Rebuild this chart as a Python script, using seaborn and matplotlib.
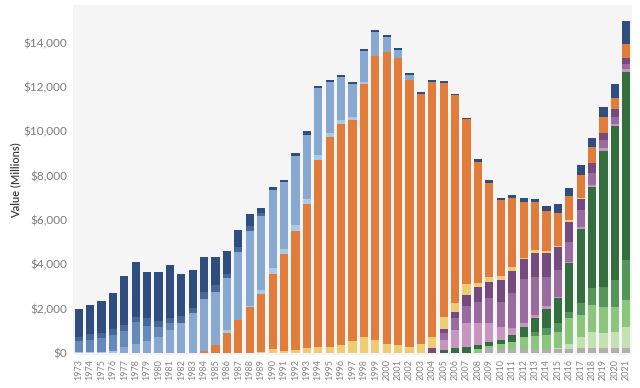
import matplotlib
matplotlib.use('Agg')
import matplotlib.pyplot as plt
import seaborn as sns
import numpy as np
import pandas as pd
from matplotlib.ticker import FuncFormatter

# Years on the x axis
years = [str(y) for y in range(1973, 2022)]

# Segment values ($ millions), 1973..2021, one list per colour band
#            1973 ........................................... 1982
navy = [1260, 1310, 1470, 1640, 2210, 2460, 2050, 2190, 2380, 1880,
        1720, 1580, 1300, 1010, 780, 530, 260, 140, 110, 120,
        150, 70, 100, 110, 100, 80, 80, 70, 90, 90,
        80, 60, 50, 50, 50, 150, 120, 110, 120, 210,
        160, 230, 410, 360, 450, 440, 480, 630, 1060]
blue_middark = [160, 240, 230, 260, 260, 260, 360, 270, 240, 320,
                250, 330, 280, 220, 230, 210, 120, 0, 0, 0,
                0, 0, 0, 0, 0, 0, 0, 0, 0, 0,
                0, 0, 0, 0, 0, 0, 0, 0, 0, 0,
                0, 0, 0, 0, 0, 0, 0, 0, 0]
blue_mid = [490, 550, 600, 740, 750, 950, 680, 470, 310, 0,
            0, 0, 0, 0, 0, 0, 0, 0, 0, 0,
            0, 0, 0, 0, 0, 0, 0, 0, 0, 0,
            0, 0, 0, 0, 0, 0, 0, 0, 0, 0,
            0, 0, 0, 0, 0, 0, 0, 0, 0]
blue_light = [0, 0, 0, 0, 240, 420, 540, 700, 1020, 1350,
              1780, 2320, 2430, 2320, 3050, 3410, 3340, 3540, 3020, 3110,
              2900, 3020, 2280, 1900, 1510, 1380, 1080, 680, 350, 210,
              0, 0, 0, 0, 0, 0, 0, 0, 0, 0,
              0, 0, 0, 0, 0, 0, 0, 0, 0]
blue_lightest = [50, 50, 50, 60, 0, 0, 0, 0, 0, 0,
                 0, 0, 0, 150, 0, 50, 180, 230, 210, 260,
                 250, 250, 180, 210, 120, 120, 0, 0, 0, 0,
                 0, 0, 0, 0, 0, 0, 0, 0, 0, 0,
                 0, 0, 0, 0, 0, 0, 0, 0, 0]
orange = [0, 0, 0, 0, 0, 0, 0, 0, 0, 0,
          0, 100, 330, 890, 1480, 2050, 2600, 3430, 4360, 5390,
          6470, 8430, 9480, 9990, 9980, 11420, 12840, 13210, 12970, 12060,
          11270, 11520, 10570, 9380, 7450, 5440, 4250, 3430, 3140, 2500,
          2150, 1800, 1470, 1100, 1050, 720, 700, 500, 630]
yellow = [0, 0, 0, 0, 0, 0, 0, 0, 0, 0,
          0, 0, 0, 0, 0, 0, 50, 150, 100, 120,
          230, 270, 270, 330, 530, 700, 570, 380, 350, 250,
          420, 520, 570, 420, 500, 210, 250, 180, 160, 70,
          130, 100, 60, 70, 30, 0, 0, 0, 0]
purple_dark = [0, 0, 0, 0, 0, 0, 0, 0, 0, 0,
               0, 0, 0, 0, 0, 0, 0, 0, 0, 0,
               0, 0, 0, 0, 0, 0, 0, 0, 0, 0,
               0, 200, 180, 300, 480, 650, 720, 980, 1020, 910,
               1080, 1080, 1030, 910, 500, 450, 330, 340, 260]
purple = [0, 0, 0, 0, 0, 0, 0, 0, 0, 0,
          0, 0, 0, 0, 0, 0, 0, 0, 0, 0,
          0, 0, 0, 0, 0, 0, 0, 0, 0, 0,
          0, 0, 310, 530, 790, 970, 1130, 1130, 1580, 1980,
          1730, 1310, 1200, 900, 750, 530, 370, 330, 220]
pink = [0, 0, 0, 0, 0, 0, 0, 0, 0, 0,
        0, 0, 0, 0, 0, 0, 0, 0, 0, 0,
        0, 0, 0, 0, 0, 0, 0, 0, 0, 0,
        0, 0, 450, 820, 1060, 980, 830, 600, 300, 160,
        150, 120, 70, 70, 110, 80, 110, 90, 120]
green_dark = [0, 0, 0, 0, 0, 0, 0, 0, 0, 0,
              0, 0, 0, 0, 0, 0, 0, 0, 0, 0,
              0, 0, 0, 0, 0, 0, 0, 0, 0, 0,
              0, 0, 120, 200, 270, 200, 200, 180, 300, 450,
              600, 900, 1130, 2190, 3350, 4580, 6140, 6950, 8500]
green_mid = [0, 0, 0, 0, 0, 0, 0, 0, 0, 0,
             0, 0, 0, 0, 0, 0, 0, 0, 0, 0,
             0, 0, 0, 0, 0, 0, 0, 0, 0, 0,
             0, 0, 0, 0, 0, 0, 0, 0, 0, 0,
             200, 300, 380, 300, 530, 760, 900, 1200, 1810]
green_light = [0, 0, 0, 0, 0, 0, 0, 0, 0, 0,
               0, 0, 0, 0, 0, 0, 0, 0, 0, 0,
               0, 0, 0, 0, 0, 0, 0, 0, 0, 0,
               0, 0, 0, 0, 0, 150, 100, 240, 350, 570,
               600, 650, 750, 1130, 980, 1200, 1200, 1130, 1210]
green_lightest = [0, 0, 0, 0, 0, 0, 0, 0, 0, 0,
                  0, 0, 0, 0, 0, 0, 0, 0, 0, 0,
                  0, 0, 0, 0, 0, 0, 0, 0, 0, 0,
                  0, 0, 0, 0, 0, 0, 0, 0, 0, 0,
                  0, 0, 50, 250, 520, 750, 680, 750, 940]
gray = [0, 0, 0, 0, 0, 0, 0, 0, 0, 0,
        0, 0, 0, 0, 0, 0, 0, 0, 0, 0,
        0, 0, 0, 0, 0, 0, 0, 0, 0, 0,
        0, 0, 0, 0, 0, 0, 200, 150, 150, 150,
        150, 150, 150, 170, 200, 200, 200, 200, 230]

# stacking order, bottom -> top, with colours
layers = [
    (gray, '#b2aeac'),
    (green_lightest, '#c3e2b1'),
    (green_light, '#8cc67c'),
    (green_mid, '#55955a'),
    (green_dark, '#346d3e'),
    (pink, '#c795bf'),
    (purple, '#9a6b9f'),
    (purple_dark, '#754a7e'),
    (yellow, '#eecd72'),
    (orange, '#e17c3a'),
    (blue_lightest, '#a8c9e8'),
    (blue_light, '#86a8d1'),
    (blue_mid, '#6489bb'),
    (blue_middark, '#47689a'),
    (navy, '#2f4e7f'),
]

sns.set_theme(style="white")
plt.rcParams['font.family'] = ['Lato', 'DejaVu Sans']

fig = plt.figure(figsize=(6.4, 3.88), dpi=100)
ax = fig.add_axes([0.114, 0.085, 0.8735, 0.902])
ax.set_facecolor('#f5f5f5')

# cumulative tops, drawn from the tallest down so each band shows
stack = np.cumsum([np.array(v, dtype=float) for v, _ in layers], axis=0)
for i in range(len(layers) - 1, -1, -1):
    df = pd.DataFrame({'year': years, 'value': stack[i]})
    sns.barplot(data=df, x='year', y='value', color=layers[i][1],
                saturation=1, width=0.72, ax=ax, errorbar=None,
                linewidth=0)

ax.set_xlim(-0.5, len(years) - 0.5)
ax.set_ylim(-100, 15700)
ax.set_yticks(range(0, 14001, 2000))
ax.yaxis.set_major_formatter(FuncFormatter(lambda v, p: f"${v:,.0f}"))
ax.tick_params(axis='y', labelsize=8.5, colors='#7c7c7c', length=0, pad=4)
ax.tick_params(axis='x', labelsize=6.5, colors='#858585', length=0,
               pad=3, rotation=90)
ax.set_xlabel('')
ax.set_ylabel('Value (Millions)', fontsize=8, color='#3a3a3a',
              fontweight='semibold', labelpad=2)
for s in ax.spines.values():
    s.set_visible(False)
ax.grid(False)

plt.savefig('out.png', dpi=100, facecolor='white')
plt.close()
